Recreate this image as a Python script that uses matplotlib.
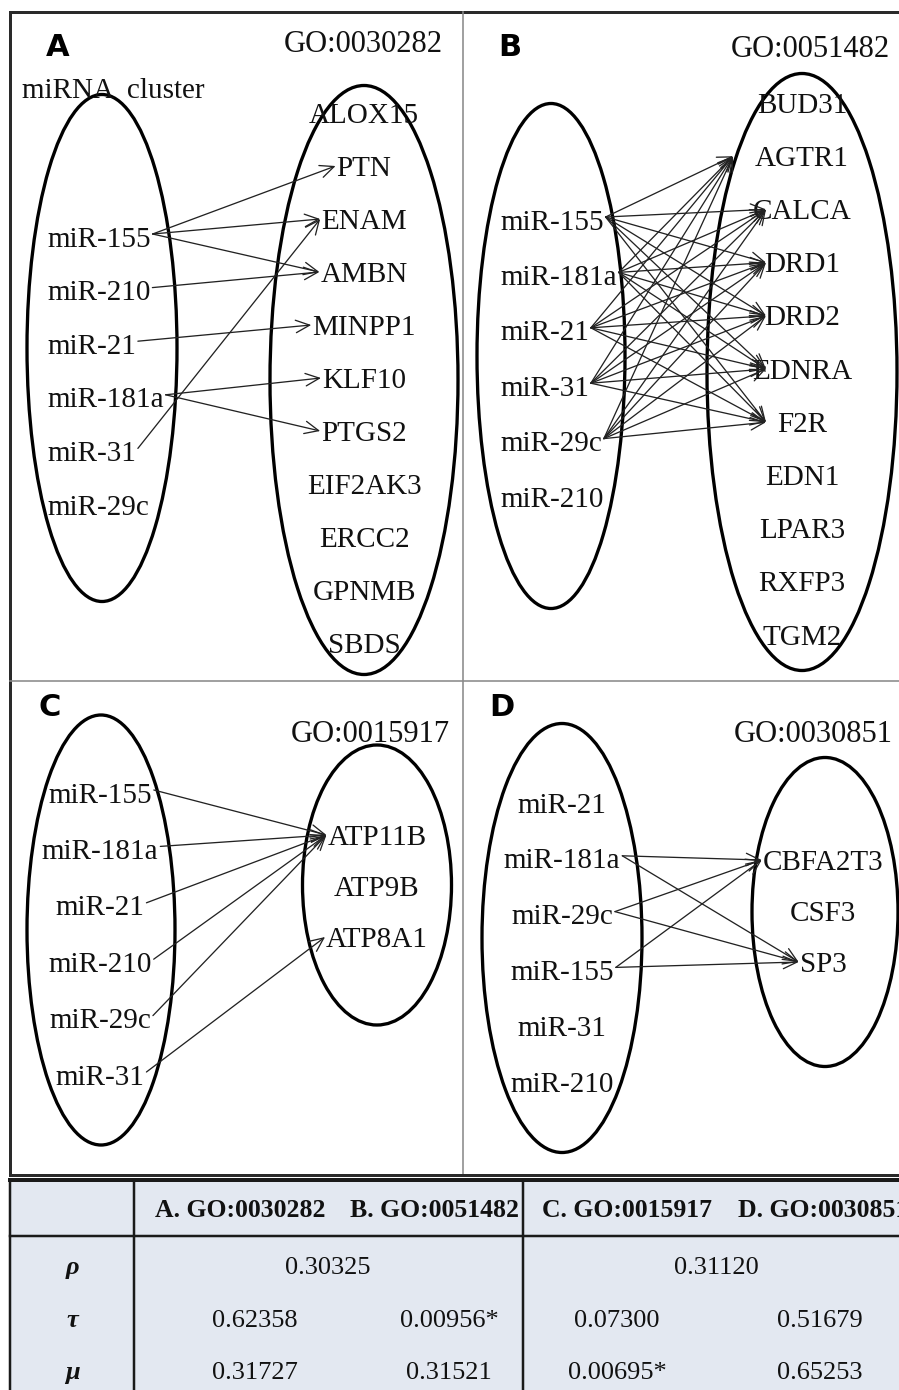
import matplotlib
matplotlib.use("Agg")
import matplotlib.pyplot as plt
from matplotlib.patches import Ellipse, FancyArrowPatch, Rectangle

SERIF = "Liberation Serif"
PX = 72.0 / 100.0  # points per pixel at dpi 100

# ---- panel data ----
a_go = "GO:0030282"
a_mirna = ["miR-155", "miR-210", "miR-21", "miR-181a", "miR-31", "miR-29c"]
a_genes = ["ALOX15", "PTN", "ENAM", "AMBN", "MINPP1", "KLF10", "PTGS2",
           "EIF2AK3", "ERCC2", "GPNMB", "SBDS"]
a_links = [("miR-155", "PTN"), ("miR-155", "ENAM"), ("miR-155", "AMBN"),
           ("miR-210", "AMBN"), ("miR-21", "MINPP1"), ("miR-181a", "KLF10"),
           ("miR-181a", "PTGS2"), ("miR-31", "ENAM")]

b_go = "GO:0051482"
b_mirna = ["miR-155", "miR-181a", "miR-21", "miR-31", "miR-29c", "miR-210"]
b_genes = ["BUD31", "AGTR1", "CALCA", "DRD1", "DRD2", "EDNRA", "F2R",
           "EDN1", "LPAR3", "RXFP3", "TGM2"]
b_sources = ["miR-155", "miR-181a", "miR-21", "miR-31", "miR-29c"]
b_targets = ["AGTR1", "CALCA", "DRD1", "DRD2", "EDNRA", "F2R"]
b_links = [(s, t) for s in b_sources for t in b_targets]

c_go = "GO:0015917"
c_mirna = ["miR-155", "miR-181a", "miR-21", "miR-210", "miR-29c", "miR-31"]
c_genes = ["ATP11B", "ATP9B", "ATP8A1"]
c_links = [("miR-155", "ATP11B"), ("miR-181a", "ATP11B"), ("miR-21", "ATP11B"),
           ("miR-210", "ATP11B"), ("miR-29c", "ATP11B"), ("miR-31", "ATP8A1")]

d_go = "GO:0030851"
d_mirna = ["miR-21", "miR-181a", "miR-29c", "miR-155", "miR-31", "miR-210"]
d_genes = ["CBFA2T3", "CSF3", "SP3"]
d_links = [("miR-181a", "CBFA2T3"), ("miR-181a", "SP3"), ("miR-29c", "CBFA2T3"),
           ("miR-29c", "SP3"), ("miR-155", "CBFA2T3"), ("miR-155", "SP3")]

# ---- table data ----
tbl_cols = ["A. GO:0030282", "B. GO:0051482", "C. GO:0015917", "D. GO:0030851"]
tbl_rows = ["\u03c1", "\u03c4", "\u03bc"]
tbl_rho = ["0.30325", "0.31120"]
tbl_tau = ["0.62358", "0.00956*", "0.07300", "0.51679"]
tbl_mu = ["0.31727", "0.31521", "0.00695*", "0.65253"]

# layout of each panel (pixels)
panels = [
    dict(letter="A", lpos=(58, 47), go=a_go, gopos=(443, 42),
         left=(102, 348, 150, 507), right=(364, 380, 188, 589),
         mirna=a_mirna, mx=47, mha="left", my=(237, 53.6),
         genes=a_genes, gx=364, gy=(113, 53.0), links=a_links, tip={}),
    dict(letter="B", lpos=(510, 47), go=b_go, gopos=(890, 47),
         left=(551, 356, 148, 505), right=(802, 372, 190, 597),
         mirna=b_mirna, mx=500, mha="left", my=(220, 55.4),
         genes=b_genes, gx=802, gy=(103, 53.2), links=b_links,
         tip={g: 766 for g in b_targets} | {"AGTR1": 733}),
    dict(letter="C", lpos=(50, 708), go=c_go, gopos=(450, 732),
         left=(101, 930, 148, 430), right=(377, 885, 149, 280),
         mirna=c_mirna, mx=100, mha="center", my=(793, 56.4),
         genes=c_genes, gx=377, gy=(835, 51.0), links=c_links, tip={}),
    dict(letter="D", lpos=(502, 708), go=d_go, gopos=(893, 732),
         left=(562, 938, 160, 429), right=(825, 912, 146, 309),
         mirna=d_mirna, mx=562, mha="center", my=(803, 55.8),
         genes=d_genes, gx=823, gy=(860, 51.0), links=d_links, tip={}),
]

fig = plt.figure(figsize=(8.99, 13.9), dpi=100)
ax = fig.add_axes([0, 0, 1, 1])
ax.set_xlim(0, 899)
ax.set_ylim(1390, 0)
ax.axis("off")


def label(x, y, s, size, ha="center", **kw):
    # y is the visual middle of capitals
    kw.setdefault("family", SERIF)
    return ax.text(x, y + size / PX * 0.33, s, fontsize=size, ha=ha,
                   va="baseline", color="#111111", **kw)


# frame
dark = "#2a2a2a"
grey = "#8a8a8a"
ax.plot([10, 899], [12, 12], color=dark, lw=3 * PX)
ax.plot([10, 10], [12, 1175], color=dark, lw=3 * PX)
ax.plot([463, 463], [12, 1175], color=grey, lw=1.6 * PX)
ax.plot([10, 899], [681, 681], color=grey, lw=1.6 * PX)
ax.plot([10, 899], [1175, 1175], color=dark, lw=3 * PX)

size = 21
canvas_labels = []
for p in panels:
    ax.text(p["lpos"][0], p["lpos"][1], p["letter"], family="DejaVu Sans",
            fontweight="bold", fontsize=22, ha="center", va="center", color="black")
    label(p["gopos"][0], p["gopos"][1], p["go"], 22, ha="right")
    for (cx, cy, w, h) in (p["left"], p["right"]):
        ax.add_patch(Ellipse((cx, cy), w, h, fill=False, ec="black", lw=3.3 * PX, zorder=3))
    mt = {}
    for i, m in enumerate(p["mirna"]):
        y = p["my"][0] + i * p["my"][1]
        mt[m] = (label(p["mx"], y, m, size, ha=p["mha"]), y)
    gt = {}
    for i, g in enumerate(p["genes"]):
        y = p["gy"][0] + i * p["gy"][1]
        gt[g] = (label(p["gx"], y, g, size), y)
    canvas_labels.append((p, mt, gt))

label(22, 88, "miRNA  cluster", size, ha="left")

fig.canvas.draw()
renderer = fig.canvas.get_renderer()
inv = ax.transData.inverted()


def xext(t):
    bb = t.get_window_extent(renderer).transformed(inv)
    return min(bb.x0, bb.x1), max(bb.x0, bb.x1)

for p, mt, gt in canvas_labels:
    for src, dst in p["links"]:
        st, sy = mt[src]
        dt, dy = gt[dst]
        x0 = xext(st)[1] + 2
        x1 = p["tip"].get(dst, xext(dt)[0] - 1)
        arr = FancyArrowPatch((x0, sy - 3), (x1, dy), arrowstyle="->,head_length=1.0,head_width=0.45",
                              mutation_scale=10, lw=1.3 * PX, color="#222222",
                              shrinkA=0, shrinkB=0, zorder=4)
        ax.add_patch(arr)

# ---- table ----
top, hdr_bot = 1180, 1236
c1, cmid = 134, 523
ax.add_patch(Rectangle((10, top), 899 - 10, 1390 - top, fc="#e3e8f1", ec="none", zorder=0))
ax.plot([10, 899], [top, top], color="#1a1a1a", lw=4 * PX)
ax.plot([10, 899], [hdr_bot, hdr_bot], color="#1a1a1a", lw=2.5 * PX)
for x in (10, c1, cmid):
    ax.plot([x, x], [top, 1390], color="#1a1a1a", lw=2.5 * PX)

hdr_x = [240, 434, 627, 823]
for x, s in zip(hdr_x, tbl_cols):
    label(x, 1209, s, 18.5, fontweight="bold")

row_y = [1265, 1318, 1370]
for y, s in zip(row_y, tbl_rows):
    label(72, y, s, 19, fontweight="bold", fontstyle="italic")

for x, s in zip([328, 716], tbl_rho):
    label(x, row_y[0], s, 19)
val_x = [255, 449, 617, 820]
for x, s in zip(val_x, tbl_tau):
    label(x, row_y[1], s, 19)
for x, s in zip(val_x, tbl_mu):
    label(x, row_y[2], s, 19)

fig.savefig("out.png", dpi=100)
